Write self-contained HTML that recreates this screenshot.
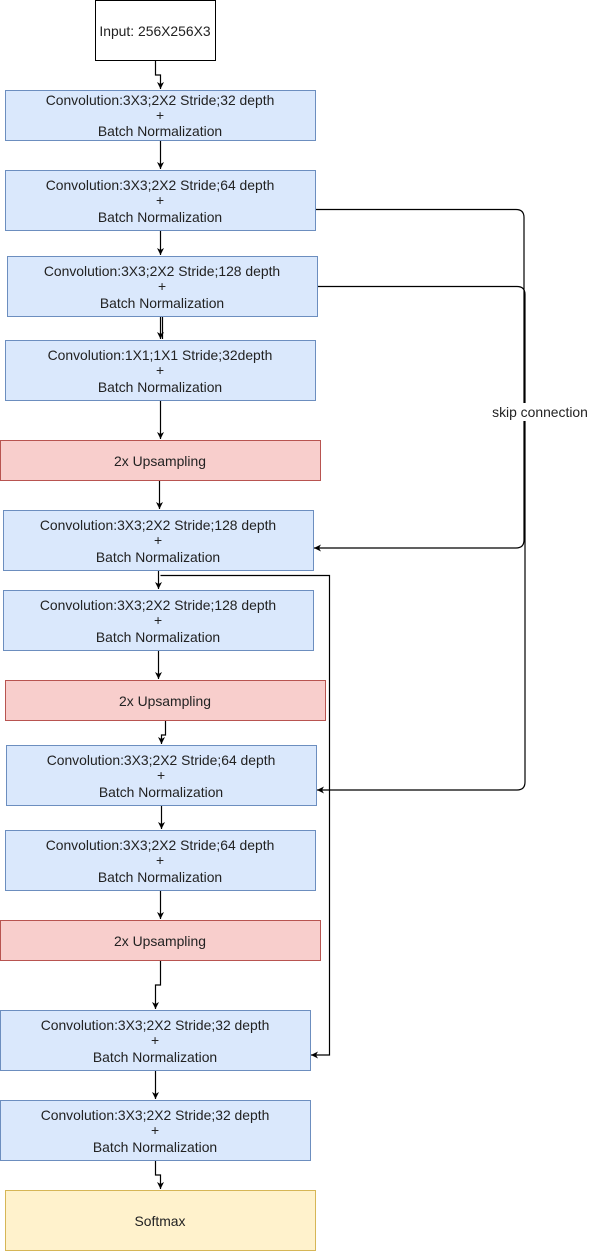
<!DOCTYPE html>
<html><head><meta charset="utf-8"><style>
html,body{margin:0;padding:0;background:#fff;}
svg{display:block;}
text{font-family:"Liberation Sans",Arial,sans-serif;font-size:13.9px;fill:#222;text-anchor:middle;}
</style></head><body>
<svg width="601" height="1251" viewBox="0 0 601 1251" xmlns="http://www.w3.org/2000/svg">
<defs><marker id="a" markerWidth="8" markerHeight="8" refX="7" refY="4" orient="auto" markerUnits="userSpaceOnUse"><path d="M0,0.5 L7,4 L0,7.5 L2,4 Z" fill="#000"/></marker></defs>
<g stroke-width="1">
<rect x="95.5" y="0.5" width="120" height="60" fill="#fff" stroke="#000"/>
<rect x="5.5" y="90.5" width="310" height="50" fill="#dae8fc" stroke="#6c8ebf"/>
<rect x="5.5" y="170.5" width="310" height="60" fill="#dae8fc" stroke="#6c8ebf"/>
<rect x="7.5" y="256.5" width="310" height="60" fill="#dae8fc" stroke="#6c8ebf"/>
<rect x="5.5" y="340.5" width="310" height="60" fill="#dae8fc" stroke="#6c8ebf"/>
<rect x="0.5" y="440.5" width="320" height="40" fill="#f8cecc" stroke="#b85450"/>
<rect x="3.5" y="510.5" width="310" height="60" fill="#dae8fc" stroke="#6c8ebf"/>
<rect x="3.5" y="590.5" width="310" height="60" fill="#dae8fc" stroke="#6c8ebf"/>
<rect x="5.5" y="680.5" width="320" height="40" fill="#f8cecc" stroke="#b85450"/>
<rect x="6.5" y="745.5" width="310" height="60" fill="#dae8fc" stroke="#6c8ebf"/>
<rect x="5.5" y="830.5" width="310" height="60" fill="#dae8fc" stroke="#6c8ebf"/>
<rect x="0.5" y="920.5" width="320" height="40" fill="#f8cecc" stroke="#b85450"/>
<rect x="0.5" y="1010.5" width="310" height="60" fill="#dae8fc" stroke="#6c8ebf"/>
<rect x="0.5" y="1100.5" width="310" height="60" fill="#dae8fc" stroke="#6c8ebf"/>
<rect x="5.5" y="1190.5" width="310" height="60" fill="#fff2cc" stroke="#d6b656"/>
</g>
<g stroke="#000" fill="none" stroke-width="1.2">
<path d="M155.5,61 V75 H160.5 V89" marker-end="url(#a)"/>
<path d="M160.5,141 V169" marker-end="url(#a)"/>
<path d="M160.5,231 V255" marker-end="url(#a)"/>
<path d="M160.5,317 V339" marker-end="url(#a)"/>
<path d="M162.5,317 V339"/>
<path d="M160.5,401 V439" marker-end="url(#a)"/>
<path d="M159.5,481 V509" marker-end="url(#a)"/>
<path d="M158.5,571 V589" marker-end="url(#a)"/>
<path d="M158.5,651 V679" marker-end="url(#a)"/>
<path d="M165.5,721 V735 H161.5 V744" marker-end="url(#a)"/>
<path d="M161.5,806 V829" marker-end="url(#a)"/>
<path d="M160.5,891 V919" marker-end="url(#a)"/>
<path d="M160.5,961 V985 H155.5 V1009" marker-end="url(#a)"/>
<path d="M155.5,1071 V1099" marker-end="url(#a)"/>
<path d="M155.5,1161 V1175 H160.5 V1189" marker-end="url(#a)"/>
<path d="M316,209.5 H516 Q524,209.5 524,217.5 V540 Q524,548 516,548 H314" marker-end="url(#a)"/>
<path d="M318,286.5 H517 Q525,286.5 525,294.5 V782 Q525,790 517,790 H317" marker-end="url(#a)"/>
<path d="M160.5,575.5 H329.5 V1055 H311" marker-end="url(#a)"/>
</g>
<rect x="488" y="403" width="104" height="18" fill="#fff"/>
<text x="540" y="417">skip connection</text>
<text x="155" y="36">Input: 256X256X3</text>
<g>
<text x="160" y="105">Convolution:3X3;2X2 Stride;32 depth</text><text x="160" y="120">+</text><text x="160" y="136">Batch Normalization</text>
<text x="160" y="190">Convolution:3X3;2X2 Stride;64 depth</text><text x="160" y="205">+</text><text x="160" y="222">Batch Normalization</text>
<text x="162" y="276">Convolution:3X3;2X2 Stride;128 depth</text><text x="162" y="291">+</text><text x="162" y="308">Batch Normalization</text>
<text x="160" y="360">Convolution:1X1;1X1 Stride;32depth</text><text x="160" y="375">+</text><text x="160" y="392">Batch Normalization</text>
<text x="160" y="466">2x Upsampling</text>
<text x="158" y="530">Convolution:3X3;2X2 Stride;128 depth</text><text x="158" y="545">+</text><text x="158" y="562">Batch Normalization</text>
<text x="158" y="610">Convolution:3X3;2X2 Stride;128 depth</text><text x="158" y="625">+</text><text x="158" y="642">Batch Normalization</text>
<text x="165" y="706">2x Upsampling</text>
<text x="161" y="765">Convolution:3X3;2X2 Stride;64 depth</text><text x="161" y="780">+</text><text x="161" y="797">Batch Normalization</text>
<text x="160" y="850">Convolution:3X3;2X2 Stride;64 depth</text><text x="160" y="865">+</text><text x="160" y="882">Batch Normalization</text>
<text x="160" y="946">2x Upsampling</text>
<text x="155" y="1030">Convolution:3X3;2X2 Stride;32 depth</text><text x="155" y="1045">+</text><text x="155" y="1062">Batch Normalization</text>
<text x="155" y="1120">Convolution:3X3;2X2 Stride;32 depth</text><text x="155" y="1135">+</text><text x="155" y="1152">Batch Normalization</text>
<text x="160" y="1226">Softmax</text>
</g>
</svg>
</body></html>
